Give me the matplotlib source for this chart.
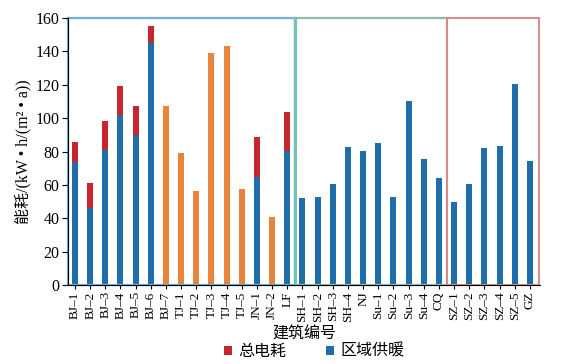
import numpy as np
import matplotlib.pyplot as plt
from matplotlib.patches import Rectangle

plt.rcParams['font.family'] = ['Liberation Serif', 'Noto Sans CJK SC']

labels = ['BJ-1', 'BJ-2', 'BJ-3', 'BJ-4', 'BJ-5', 'BJ-6', 'BJ-7',
          'TJ-1', 'TJ-2', 'TJ-3', 'TJ-4', 'TJ-5', 'JN-1', 'JN-2', 'LF',
          'SH-1', 'SH-2', 'SH-3', 'SH-4', 'NJ', 'Su-1', 'Su-2', 'Su-3', 'Su-4', 'CQ',
          'SZ-1', 'SZ-2', 'SZ-3', 'SZ-4', 'SZ-5', 'GZ']
# 区域供暖 part (blue), 0 where the bar is orange-only
heating = [74, 46, 81, 102, 90, 145, 0,
           0, 0, 0, 0, 0, 65, 0, 80.5,
           52, 53, 60.5, 83, 80.5, 85, 53, 110, 75.5, 64,
           50, 60.5, 82, 83.5, 120.5, 74.5]
# total electricity (red top = total - heating)
total = [85.5, 61, 98, 119, 107, 155, 107,
         79, 56.5, 139, 143, 57.5, 88.5, 40.5, 103.5,
         52, 53, 60.5, 83, 80.5, 85, 53, 110, 75.5, 64,
         50, 60.5, 82, 83.5, 120.5, 74.5]

blue = '#1f6eaa'
red = '#c7262f'
orange = '#e8843b'

x = np.arange(len(labels))
heating = np.array(heating)
total = np.array(total)
only_total = heating == 0

fig = plt.figure(figsize=(5.79, 3.64), dpi=100)
ax = fig.add_axes([0.1174, 0.217, 0.8152, 0.7335])

w = 0.4
hb = ax.bar(x[~only_total], heating[~only_total], width=w, color=blue)
rb = ax.bar(x[~only_total], (total - heating)[~only_total], bottom=heating[~only_total],
            width=w, color=red)
ax.bar(x[only_total], total[only_total], width=w, color=orange)

# region frames
ax.add_patch(Rectangle((-0.46, 0), 14.96, 160, fill=False, ec='#6cb3dc', lw=1.6, clip_on=False))
ax.add_patch(Rectangle((14.5, 0), 10.0, 160, fill=False, ec='#8cbfa8', lw=1.6, clip_on=False))
ax.add_patch(Rectangle((24.5, 0), 6.1, 160, fill=False, ec='#d98a88', lw=1.4, clip_on=False))
ax.axvline(14.5, color='#6ec2b8', lw=2.2)

ax.set_xlim(-0.46, 30.66)
ax.set_ylim(0, 160)
ax.set_yticks(range(0, 161, 20))
ax.set_xticks(x)
ax.set_xticklabels([l.replace('-', '–') for l in labels], rotation=90, fontsize=9.5)
ax.tick_params(axis='y', labelsize=11.5, direction='out', length=4, pad=2)
ax.tick_params(axis='x', direction='out', length=3, pad=1.5)
for s in ['top', 'right']:
    ax.spines[s].set_visible(False)

ax.set_ylabel('能耗/(kW • h/(m² • a))', fontsize=11.5)
ax.yaxis.set_label_coords(-0.078, 0.5)
ax.set_xlabel('建筑编号', fontsize=11.5)
ax.xaxis.set_label_coords(0.5, -0.155)

fig.legend([rb, hb], ['总电耗', '区域供暖'], loc='center', bbox_to_anchor=(314 / 579, 0.033),
           ncol=2, frameon=False, fontsize=11.5, handlelength=0.5, handleheight=0.5,
           columnspacing=2.5, handletextpad=0.4, borderaxespad=0, borderpad=0)

fig.savefig('out.png', dpi=100)
